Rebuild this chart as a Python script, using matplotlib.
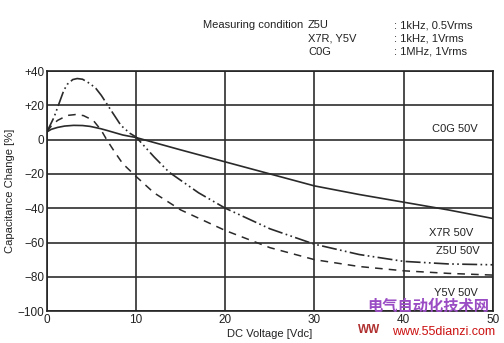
import numpy as np
import matplotlib.pyplot as plt

plt.rcParams['font.family'] = ['Liberation Sans', 'DejaVu Sans']

# capacitance change vs DC bias, read at a handful of voltages
v_solid = [0, 0.5, 1.2, 2, 3, 4, 4.85, 6, 6.7, 8.5, 10, 15, 20, 25, 30, 35, 40, 45, 50]
c_solid = [4.5, 6, 7.1, 7.9, 8.3, 8.2, 7.7, 6.4, 5.4, 2.7, 1.2, -6, -13, -20, -27, -32, -36.5, -41, -46]

v_dashdot = [0, 0.8, 1.5, 1.9, 2.3, 2.9, 3.4, 4.0, 4.85, 5.5, 6.1, 7.2, 8.3, 9.3, 10,
             12, 13.7, 17, 20, 25, 30, 35, 40, 45, 50]
c_dashdot = [4.5, 13, 23, 28.7, 32.3, 35, 35.6, 35.2, 32.6, 29.8, 25.8, 17, 8.3, 3.7, 1.5,
             -10, -19, -31, -40, -52, -61, -67, -71, -72.5, -73]

v_dashed = [0, 0.5, 1.2, 2.3, 3.2, 4.1, 5.2, 6.1, 6.7, 7.6, 8.5, 10, 12, 15, 20, 25, 30, 35, 40, 45, 50]
c_dashed = [4.5, 8, 11.2, 14.1, 14.6, 14, 11.2, 5.4, 0, -7.2, -14, -21.5, -31, -41, -53, -63, -70, -74, -76.5, -78, -79]

y_ticks = [40, 20, 0, -20, -40, -60, -80, -100]
y_labels = ['+40', '+20', '0', '\u221220', '\u221240', '\u221260', '\u221280', '\u2212100']
x_ticks = [0, 10, 20, 30, 40, 50]

curve_labels = ['C0G 50V', 'X7R 50V', 'Z5U 50V', 'Y5V 50V']
curve_label_pos = [(48.3, 6), (47.8, -54.6), (48.5, -65), (48.3, -89.5)]

fig = plt.figure(figsize=(5.04, 3.43), dpi=100)
ax = fig.add_axes([0.093, 0.093, 0.885, 0.70])

ax.plot(v_solid, c_solid, color='#2a2a2a', lw=1.2, solid_joinstyle='round')
ax.plot(v_dashdot, c_dashdot, color='#2a2a2a', lw=1.2, dashes=(9, 2, 1, 2, 1, 2))
ax.plot(v_dashed, c_dashed, color='#2a2a2a', lw=1.1, dashes=(5, 4))

ax.set_xlim(0, 50)
ax.set_ylim(-100, 40)
ax.set_xticks(x_ticks)
ax.set_yticks(y_ticks)
ax.set_yticklabels(y_labels)
ax.tick_params(length=0, labelsize=8.5, colors='#222222', pad=2)
ax.grid(True, color='#2e2e2e', lw=1.2)
for s in ax.spines.values():
    s.set_color('#222222')
    s.set_linewidth(1.2)

ax.set_xlabel('DC Voltage [Vdc]', fontsize=8, color='#222222', labelpad=2)
ax.set_ylabel('Capacitance Change [%]', fontsize=8, color='#222222', labelpad=2)

for txt, (x, y) in zip(curve_labels, curve_label_pos):
    ax.text(x, y, txt, fontsize=8, ha='right', va='center', color='#222222')

# measuring conditions header
hdr = dict(fontsize=8, color='#222222', va='center')
fig.text(203 / 504, 1 - 25 / 343, 'Measuring condition', **hdr)
col2 = ['Z5U', 'X7R, Y5V', 'C0G']
col3 = [': 1kHz, 0.5Vrms', ': 1kHz, 1Vrms', ': 1MHz, 1Vrms']
for i, (a, b) in enumerate(zip(col2, col3)):
    y = 1 - (25 + 13.5 * i) / 343
    fig.text(308 / 504, y, a, **hdr)
    fig.text(394 / 504, y, b, **hdr)

# site watermark
fig.text(428 / 504, 1 - 306 / 343, '电气自动化技术网', fontsize=11, ha='center', va='center',
         color='#9a4cc4', fontweight='bold', family=['Noto Sans CJK SC', 'DejaVu Sans'])
fig.text(358 / 504, 1 - 330 / 343, 'WW', fontsize=8.5, ha='left', va='center',
         color='#b03030', fontweight='bold')
fig.text(444 / 504, 1 - 332 / 343, 'www.55dianzi.com', fontsize=9, ha='center', va='center',
         color='#cc1111')

fig.savefig('out.png', dpi=100)
